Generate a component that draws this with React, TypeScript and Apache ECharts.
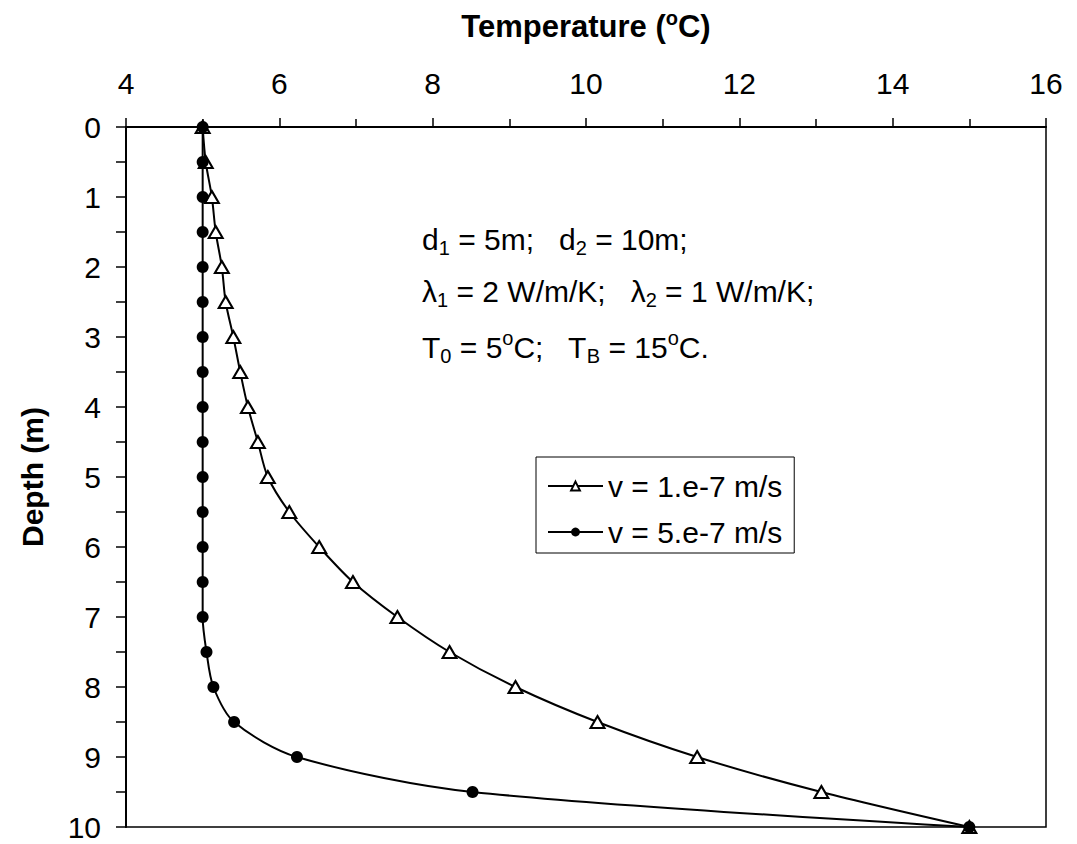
import React, { useEffect, useRef } from "react";
import * as echarts from "echarts";

// ---- data ----
const depths = [0, 0.5, 1, 1.5, 2, 2.5, 3, 3.5, 4, 4.5, 5, 5.5, 6, 6.5, 7, 7.5, 8, 8.5, 9, 9.5, 10];
const tempSlow = [5.0, 5.04, 5.12, 5.17, 5.25, 5.3, 5.4, 5.49, 5.59, 5.72, 5.85, 6.13, 6.52, 6.96, 7.54, 8.22, 9.08, 10.15, 11.45, 13.07, 15.0];
const tempFast = [5.0, 5.0, 5.0, 5.0, 5.0, 5.0, 5.0, 5.0, 5.0, 5.0, 5.0, 5.0, 5.0, 5.0, 5.0, 5.05, 5.14, 5.41, 6.23, 8.52, 15.0];
const seriesNames = ["v = 1.e-7 m/s", "v = 5.e-7 m/s"];
const xRange = { min: 4, max: 16, interval: 2 };
const yRange = { min: 0, max: 10, interval: 1 };

const FONT = '"Liberation Sans", Arial, Helvetica, sans-serif';

export default function App() {
  const ref = useRef<HTMLDivElement>(null);

  useEffect(() => {
    document.body.style.margin = "0";
    if (!ref.current) return;
    const chart = echarts.init(ref.current, null, { renderer: "svg" });

    const mainRich = (fs: number) => ({
      n: { fontSize: fs, fontFamily: FONT, color: "#000", lineHeight: 38 },
      sub: { fontSize: 20, fontFamily: FONT, color: "#000", lineHeight: 20, verticalAlign: "bottom" },
      sup: { fontSize: 20, fontFamily: FONT, color: "#000", lineHeight: 20, verticalAlign: "top" },
    });

    const annot = (y: number, text: string) => ({
      type: "text",
      left: 422,
      top: y - 19,
      style: {
        text,
        rich: mainRich(30),
        fill: "#000",
        font: `30px ${FONT}`,
      },
    });

    const option: any = {
      animation: false,
      backgroundColor: "#fff",
      textStyle: { fontFamily: FONT, color: "#000" },
      grid: {
        left: 126,
        top: 127,
        width: 920,
        height: 700,
        show: true,
        borderColor: "#000",
        borderWidth: 1.5,
        backgroundColor: "transparent",
      },
      xAxis: {
        type: "value",
        position: "top",
        min: xRange.min,
        max: xRange.max,
        interval: xRange.interval,
        axisLine: { show: true, lineStyle: { color: "#000", width: 2 } },
        axisTick: { show: true, inside: false, length: 9, lineStyle: { color: "#000", width: 1.5 } },
        minorTick: { show: true, splitNumber: 2, length: 8, lineStyle: { color: "#000", width: 1.5 } },
        axisLabel: { fontSize: 30, color: "#000", fontFamily: FONT, margin: 29 },
        splitLine: { show: false },
        minorSplitLine: { show: false },
      },
      yAxis: {
        type: "value",
        inverse: true,
        min: yRange.min,
        max: yRange.max,
        interval: yRange.interval,
        axisLine: { show: true, lineStyle: { color: "#000", width: 2 } },
        axisTick: { show: true, inside: false, length: 10, lineStyle: { color: "#000", width: 1.5 } },
        minorTick: { show: true, splitNumber: 2, length: 10, lineStyle: { color: "#000", width: 1.5 } },
        axisLabel: { fontSize: 30, color: "#000", fontFamily: FONT, margin: 25 },
        splitLine: { show: false },
        minorSplitLine: { show: false },
      },
      legend: {
        show: true,
        orient: "vertical",
        left: 536,
        top: 457,
        padding: [14, 12, 6, 11],
        itemWidth: 55,
        itemHeight: 11,
        itemGap: 16,
        backgroundColor: "#fff",
        borderColor: "#000",
        borderWidth: 1,
        textStyle: { fontSize: 30, color: "#000", fontFamily: FONT, lineHeight: 30 },
        data: seriesNames,
      },
      graphic: [
        {
          type: "text",
          x: 586,
          y: 26,
          style: {
            text: "{b|Temperature (}{bs|o}{b|C)}",
            rich: {
              b: { fontSize: 31, fontWeight: "bold", fontFamily: FONT, color: "#000", lineHeight: 36 },
              bs: { fontSize: 20, fontWeight: "bold", fontFamily: FONT, color: "#000", lineHeight: 20, verticalAlign: "top" },
            },
            align: "center",
            verticalAlign: "middle",
          },
        },
        {
          type: "text",
          x: 32,
          y: 477,
          rotation: Math.PI / 2,
          style: {
            text: "Depth (m)",
            fontSize: 30,
            fontWeight: "bold",
            fontFamily: FONT,
            fill: "#000",
            align: "center",
            verticalAlign: "middle",
          },
        },
        annot(243, "{n|d}{sub|1}{n| = 5m;   d}{sub|2}{n| = 10m;}"),
        annot(295, "{n|λ}{sub|1}{n| = 2 W/m/K;   λ}{sub|2}{n| = 1 W/m/K;}"),
        annot(347, "{n|T}{sub|0}{n| = 5}{sup|o}{n|C;   T}{sub|B}{n| = 15}{sup|o}{n|C.}"),
      ],
      series: [
        {
          name: seriesNames[0],
          type: "line",
          data: depths.map((d, i) => [tempSlow[i], d]),
          smooth: 0.3,
          symbol: "triangle",
          symbolSize: [14, 12],
          showAllSymbol: true,
          clip: false,
          itemStyle: { color: "#fff", borderColor: "#000", borderWidth: 2 },
          lineStyle: { color: "#000", width: 2 },
          z: 2,
        },
        {
          name: seriesNames[1],
          type: "line",
          data: depths.map((d, i) => [tempFast[i], d]),
          smooth: 0.3,
          symbol: "circle",
          symbolSize: 12,
          showAllSymbol: true,
          clip: false,
          itemStyle: { color: "#000", borderColor: "#000", borderWidth: 0 },
          lineStyle: { color: "#000", width: 2 },
          z: 3,
        },
      ],
    };

    chart.setOption(option);
    return () => chart.dispose();
  }, []);

  return <div ref={ref} style={{ width: 1077, height: 844 }} />;
}
